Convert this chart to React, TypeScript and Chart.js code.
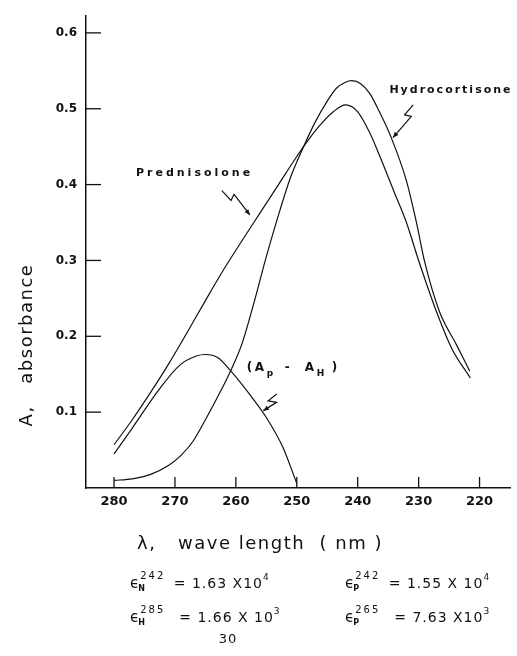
import React, { useEffect, useRef } from 'react';
import { Chart, registerables } from 'chart.js';

Chart.register(...registerables);

// ---- data ----
const xTicks = [280, 270, 260, 250, 240, 230, 220];
const yTicks = [0.1, 0.2, 0.3, 0.4, 0.5, 0.6];

const predWl = [280, 277, 274, 271, 268, 265, 262, 259, 256, 253, 250, 248, 246, 244, 242, 240, 238, 236, 234, 232, 230, 227, 224.5, 221.5];
const predA = [0.057, 0.09, 0.126, 0.164, 0.205, 0.247, 0.288, 0.326, 0.363, 0.4, 0.437, 0.46, 0.48, 0.496, 0.505, 0.496, 0.468, 0.43, 0.39, 0.35, 0.3, 0.231, 0.183, 0.145];

const hydroWl = [280, 277, 274, 271, 269, 267, 265, 263, 261, 259, 257, 255, 253, 251, 249, 247, 245, 243.5, 242, 241, 239.5, 238, 236.5, 234.5, 232, 230.3, 229, 226.6, 223.8, 221.6];
const hydroA = [0.01, 0.012, 0.018, 0.03, 0.043, 0.062, 0.09, 0.12, 0.152, 0.19, 0.245, 0.305, 0.36, 0.41, 0.448, 0.482, 0.51, 0.527, 0.535, 0.537, 0.533, 0.52, 0.497, 0.462, 0.405, 0.348, 0.298, 0.233, 0.189, 0.154];

const diffWl = [280, 277, 272.5, 269.2, 266.5, 265, 263, 260.7, 257.7, 255, 252.3, 250];
const diffA = [0.045, 0.079, 0.131, 0.162, 0.174, 0.176, 0.172, 0.153, 0.123, 0.093, 0.054, 0.006];

const predLabel = 'Prednisolone';
const hydroLabel = 'Hydrocortisone';

// label anchors & arrows (data coordinates)
const predText = [276.4, 0.415];
const predArrow = [[262.3, 0.392], [260.8, 0.379], [260.3, 0.387], [257.7, 0.36]];
const hydroText = [234.8, 0.524];
const hydroArrow = [[230.9, 0.505], [232.3, 0.492], [231.2, 0.49], [234.2, 0.462]];
const diffText = [258.2, 0.158];
const diffArrow = [[253.3, 0.124], [254.7, 0.115], [253.3, 0.113], [255.5, 0.102]];

const FONT = 'DejaVu Sans';

function drawArrow(ctx: CanvasRenderingContext2D, pts: number[][]) {
  ctx.beginPath();
  ctx.moveTo(pts[0][0], pts[0][1]);
  for (let i = 1; i < pts.length; i++) ctx.lineTo(pts[i][0], pts[i][1]);
  ctx.stroke();
  const a = pts[pts.length - 2];
  const b = pts[pts.length - 1];
  const ang = Math.atan2(b[1] - a[1], b[0] - a[0]);
  const L = 6;
  ctx.beginPath();
  ctx.moveTo(b[0], b[1]);
  ctx.lineTo(b[0] - L * Math.cos(ang - 0.4), b[1] - L * Math.sin(ang - 0.4));
  ctx.lineTo(b[0] - L * Math.cos(ang + 0.4), b[1] - L * Math.sin(ang + 0.4));
  ctx.closePath();
  ctx.fill();
}

function drawEps(ctx: CanvasRenderingContext2D, x: number, y: number, sub: string, sup: string, rest: string, exp: string) {
  ctx.textAlign = 'left';
  ctx.textBaseline = 'alphabetic';
  ctx.font = `15px ${FONT}`;
  ctx.fillText('ϵ', x, y);
  const w = ctx.measureText('ϵ').width;
  ctx.font = `bold 8px ${FONT}`;
  ctx.fillText(sub, x + w - 1, y + 3);
  ctx.font = `10px ${FONT}`;
  (ctx as any).letterSpacing = '2px';
  ctx.fillText(sup, x + w + 1, y - 9);
  const ws = ctx.measureText(sup).width;
  ctx.font = `14px ${FONT}`;
  (ctx as any).letterSpacing = '1px';
  ctx.fillText(rest, x + w + ws + 4, y);
  const wr = ctx.measureText(rest).width;
  ctx.font = `9px ${FONT}`;
  ctx.fillText(exp, x + w + ws + 4 + wr, y - 8);
  (ctx as any).letterSpacing = '0px';
}

const annotPlugin = {
  id: 'annot',
  afterDraw(chart: any) {
    const ctx: CanvasRenderingContext2D = chart.ctx;
    const xs = chart.scales.x;
    const ys = chart.scales.y;
    const P = (p: number[]) => [xs.getPixelForValue(p[0]), ys.getPixelForValue(p[1])];
    const area = chart.chartArea;
    ctx.save();
    ctx.strokeStyle = '#111';
    ctx.fillStyle = '#111';
    ctx.lineWidth = 1.3;
    // inner tick marks
    yTicks.forEach((v) => {
      const y = ys.getPixelForValue(v);
      ctx.beginPath();
      ctx.moveTo(area.left, y);
      ctx.lineTo(area.left + 15, y);
      ctx.stroke();
    });
    xTicks.forEach((v) => {
      const x = xs.getPixelForValue(v);
      ctx.beginPath();
      ctx.moveTo(x, area.bottom);
      ctx.lineTo(x, area.bottom - 11);
      ctx.stroke();
    });

    // labels
    ctx.textBaseline = 'middle';
    ctx.textAlign = 'left';
    (ctx as any).letterSpacing = '3px';
    ctx.font = `bold 11px ${FONT}`;
    let p = P(predText);
    ctx.fillText(predLabel, p[0], p[1]);
    p = P(hydroText);
    (ctx as any).letterSpacing = '2px';
    ctx.fillText(hydroLabel, p[0], p[1]);
    (ctx as any).letterSpacing = '0px';

    // (Ap - AH)
    p = P(diffText);
    const x0 = p[0];
    const y0 = p[1];
    ctx.font = `bold 12px ${FONT}`;
    ctx.fillText('(', x0, y0);
    ctx.fillText('A', x0 + 8, y0);
    ctx.fillText('-', x0 + 38, y0);
    ctx.fillText('A', x0 + 58, y0);
    ctx.fillText(')', x0 + 85, y0);
    ctx.font = `bold 9px ${FONT}`;
    ctx.fillText('p', x0 + 20, y0 + 6);
    ctx.fillText('H', x0 + 70, y0 + 6);

    // arrows
    ctx.lineWidth = 1.2;
    drawArrow(ctx, predArrow.map(P));
    drawArrow(ctx, hydroArrow.map(P));
    drawArrow(ctx, diffArrow.map(P));

    // axis titles
    ctx.font = `18px ${FONT}`;
    (ctx as any).letterSpacing = '1.5px';
    ctx.textAlign = 'center';
    ctx.save();
    ctx.translate(27, 345);
    ctx.rotate(-Math.PI / 2);
    ctx.fillText('A,   absorbance', 0, 0);
    ctx.restore();
    ctx.textAlign = 'left';
    ctx.fillText('λ,   wave length  ( nm )', 137, 544);
    (ctx as any).letterSpacing = '0px';

    // formulas
    drawEps(ctx, 130, 588, 'N', '242', ' = 1.63 X10', '4');
    drawEps(ctx, 345, 588, 'P', '242', ' = 1.55 X 10', '4');
    drawEps(ctx, 130, 622, 'H', '285', '  = 1.66 X 10', '3');
    drawEps(ctx, 345, 622, 'P', '265', '  = 7.63 X10', '3');
    ctx.font = `13px ${FONT}`;
    ctx.textAlign = 'center';
    ctx.textBaseline = 'alphabetic';
    (ctx as any).letterSpacing = '1px';
    ctx.fillText('30', 228, 643);
    ctx.restore();
  },
};

export default function App() {
  const ref = useRef<HTMLCanvasElement | null>(null);
  useEffect(() => {
    if (!ref.current) return;
    const mk = (wl: number[], a: number[], label: string) => ({
      label,
      data: wl.map((x, i) => ({ x, y: a[i] })),
      borderColor: '#111',
      borderWidth: 1.2,
      pointRadius: 0,
      fill: false,
      cubicInterpolationMode: 'monotone' as const,
    });
    const chart = new Chart(ref.current, {
      type: 'line',
      data: {
        datasets: [
          mk(predWl, predA, predLabel),
          mk(hydroWl, hydroA, hydroLabel),
          mk(diffWl, diffA, '(Ap - AH)'),
        ],
      },
      options: {
        responsive: false,
        animation: false,
        layout: { padding: { top: 12, right: 7, left: 0, bottom: 0 } },
        plugins: { legend: { display: false }, tooltip: { enabled: false }, title: { display: false } },
        scales: {
          x: {
            type: 'linear',
            reverse: true,
            min: 215,
            max: 284.6,
            afterBuildTicks: (s: any) => {
              s.ticks = xTicks.map((v) => ({ value: v }));
            },
            afterFit: (s: any) => {
              s.height = 168;
            },
            grid: { display: false, drawTicks: false },
            border: { display: true, color: '#111', width: 1.5 },
            ticks: {
              color: '#111',
              font: { family: FONT, size: 13, weight: 'bold' },
              padding: 6,
              maxRotation: 0,
              autoSkip: false,
              callback: (v: any) => String(v),
            },
          },
          y: {
            type: 'linear',
            min: 0,
            max: 0.622,
            afterBuildTicks: (s: any) => {
              s.ticks = yTicks.map((v) => ({ value: v }));
            },
            afterFit: (s: any) => {
              s.width = 86;
            },
            grid: { display: false, drawTicks: false },
            border: { display: true, color: '#111', width: 1.5 },
            ticks: {
              color: '#111',
              font: { family: FONT, size: 12, weight: 'bold' },
              padding: 9,
              autoSkip: false,
              callback: (v: any) => Number(v).toFixed(1),
            },
          },
        },
      },
      plugins: [annotPlugin],
    });
    return () => chart.destroy();
  }, []);
  return (
    <div style={{ position: 'absolute', left: 0, top: 0, width: 517, height: 656, background: '#fff' }}>
      <canvas ref={ref} width={517} height={656} />
    </div>
  );
}
